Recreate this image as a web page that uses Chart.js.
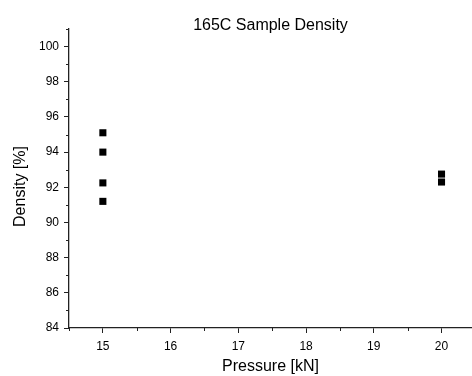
<!DOCTYPE html>
<html>
<head>
<meta charset="utf-8">
<script src="https://cdn.jsdelivr.net/npm/chart.js@4.4.0/dist/chart.umd.min.js"></script>
<style>
  html, body { margin: 0; padding: 0; background: #fff; }
  canvas { display: block; }
</style>
</head>
<body>
<canvas id="c" width="472" height="376"></canvas>
<script>
// Sample density measurements at two pressing pressures
const pressure = [15, 15, 15, 15, 20, 20];
const density = [95.1, 94.0, 92.25, 91.2, 92.75, 92.3];

// Axis tick values
const xMajorTicks = [15, 16, 17, 18, 19, 20];
const xMinorTicks = [14.5, 15.5, 16.5, 17.5, 18.5, 19.5];
const yMajorTicks = [84, 86, 88, 90, 92, 94, 96, 98, 100];
const yMinorTicks = [85, 87, 89, 91, 93, 95, 97, 99, 101];

const yAxisTitle = 'Density [%]';

const FONT = "'Liberation Sans', Arial, sans-serif";
const INK = '#000';
const AXIS = '#222';

// Short outward ticks between the labelled ones, plus the y-axis title
const axisExtras = {
  id: 'axisExtras',
  afterLayout(chart) {
    // centre the chart title over the plot area
    const tb = chart.titleBlock;
    if (tb) {
      tb.left = chart.chartArea.left;
      tb.right = chart.chartArea.right;
      tb.width = tb.right - tb.left;
    }
  },
  afterDraw(chart) {
    const { ctx, scales: { x, y } } = chart;
    ctx.save();
    ctx.strokeStyle = AXIS;
    ctx.lineWidth = 1;
    ctx.beginPath();
    xMinorTicks.forEach(v => {
      const px = Math.round(x.getPixelForValue(v)) + 0.5;
      ctx.moveTo(px, y.bottom);
      ctx.lineTo(px, y.bottom + 3);
    });
    yMinorTicks.forEach(v => {
      const py = Math.round(y.getPixelForValue(v)) + 0.5;
      ctx.moveTo(x.left, py);
      ctx.lineTo(x.left - 3, py);
    });
    ctx.stroke();

    ctx.fillStyle = INK;
    ctx.font = '16px ' + FONT;
    ctx.textAlign = 'center';
    ctx.textBaseline = 'middle';
    ctx.translate(21, (y.top + y.bottom) / 2 + 8);
    ctx.rotate(-Math.PI / 2);
    ctx.fillText(yAxisTitle, 0, 0);
    ctx.restore();
  }
};

new Chart(document.getElementById('c'), {
  type: 'scatter',
  data: {
    datasets: [{
      data: pressure.map((p, i) => ({ x: p, y: density[i] })),
      pointStyle: 'rect',
      pointRadius: 5,
      pointHoverRadius: 5,
      backgroundColor: '#000',
      borderColor: '#000',
      borderWidth: 0
    }]
  },
  plugins: [axisExtras],
  options: {
    responsive: false,
    animation: false,
    layout: { padding: 0, autoPadding: false },
    plugins: {
      legend: { display: false },
      tooltip: { enabled: false },
      title: {
        display: true,
        text: '165C Sample Density',
        color: INK,
        font: { family: FONT, size: 16, weight: 'normal', lineHeight: 1 },
        padding: { top: 18, bottom: -5 },
        align: 'center'
      }
    },
    scales: {
      x: {
        type: 'linear',
        min: 14.5,
        max: 20.45,
        afterBuildTicks: s => { s.ticks = xMajorTicks.map(v => ({ value: v })); },
        afterFit: s => { s.height = 48; s.paddingLeft = 0; s.paddingRight = 0; },
        grid: { drawOnChartArea: false, drawTicks: true, tickLength: 5, color: AXIS },
        border: { display: true, color: AXIS, width: 1.3 },
        ticks: { color: INK, padding: 6, font: { family: FONT, size: 12 } },
        title: {
          display: true,
          text: 'Pressure [kN]',
          color: INK,
          font: { family: FONT, size: 16, lineHeight: 1 },
          padding: { top: 0, bottom: 1 }
        }
      },
      y: {
        type: 'linear',
        min: 84,
        max: 101,
        afterBuildTicks: s => { s.ticks = yMajorTicks.map(v => ({ value: v })); },
        afterFit: s => { s.width = 69; s.paddingTop = 0; s.paddingBottom = 0; },
        grid: { drawOnChartArea: false, drawTicks: true, tickLength: 5, color: AXIS },
        border: { display: true, color: AXIS, width: 1.3 },
        ticks: { color: INK, padding: 5, font: { family: FONT, size: 12 } },
        title: { display: false }
      }
    }
  }
});
</script>
</body>
</html>
